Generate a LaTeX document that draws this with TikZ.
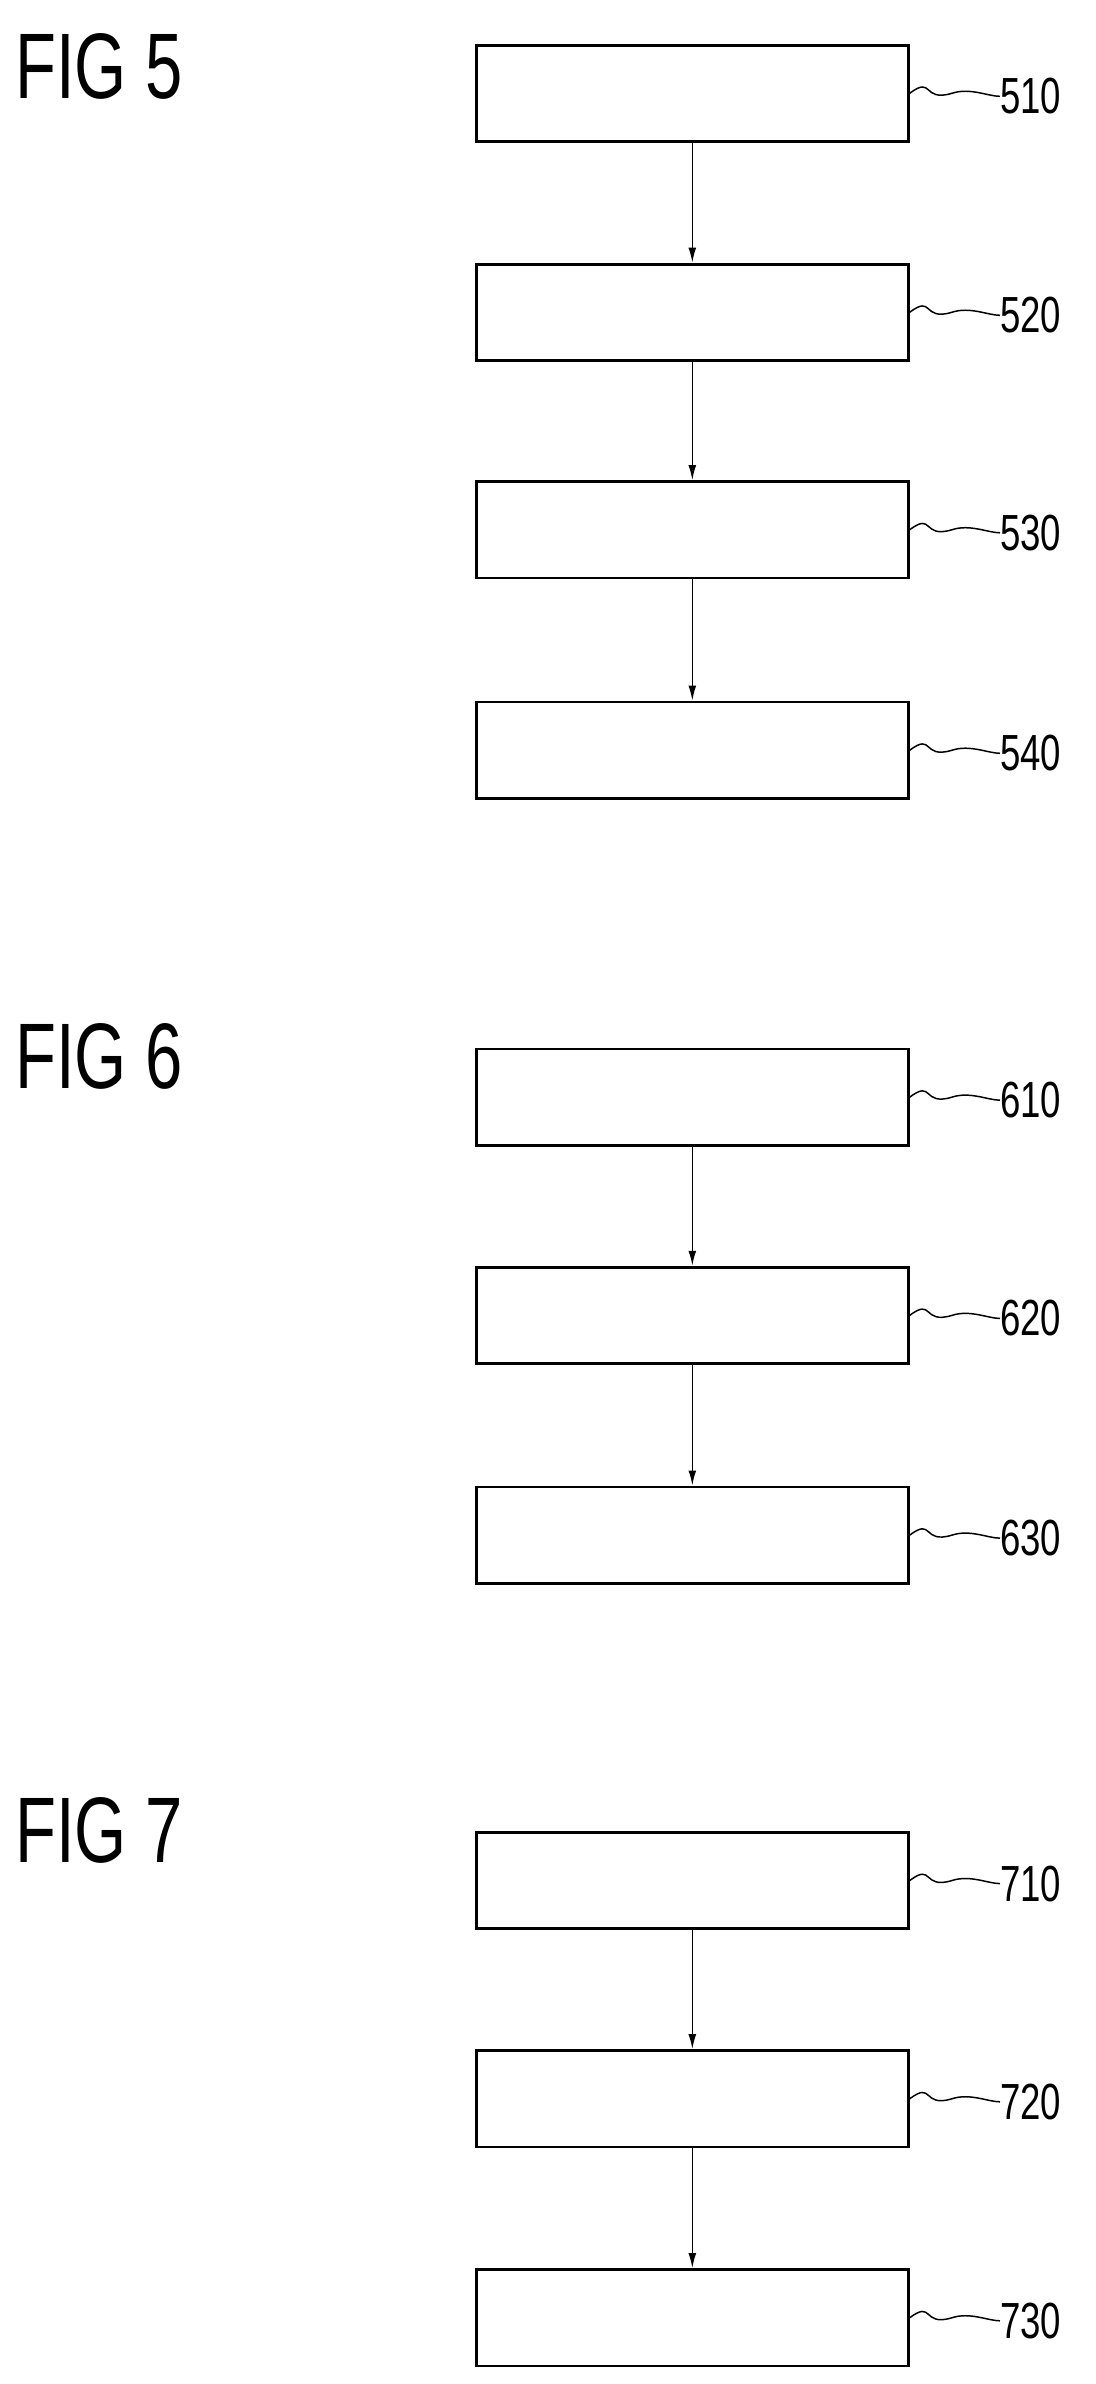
\documentclass[tikz,border=0pt]{standalone}
\usepackage{fontspec}
\setmainfont{Liberation Sans}
\usetikzlibrary{positioning, arrows.meta}
\tikzset{
	step box/.style={draw, rectangle, line width=2.6pt, minimum width=143.5mm, minimum height=32mm, inner sep=0pt},
	ref/.style={anchor=west, xscale=0.72, inner sep=0pt, font=\fontsize{48}{48}\selectfont},
	fig/.style={anchor=north west, xscale=0.72, inner sep=0pt, font=\fontsize{88}{88}\selectfont},
}
\newcommand{\tildeline}[2]{\draw[line width=1.4pt] (#1.east) .. controls ++(8mm,6mm) and ++(-10mm,-3mm) .. ++(14mm,0) .. controls ++(6mm,2mm) and ++(-4mm,0) .. (#2.west);}
\begin{document}
\begin{tikzpicture}[x=0.5mm, y=-0.5mm]
			\useasboundingbox (0,0) rectangle (728,1584);
			
			\node (fig5) [fig] at (10,22) {FIG 5};
			\node (fig6) [fig] at (10,680) {FIG 6};
			\node (fig7) [fig] at (10,1194) {FIG 7};
			
			\node (s510) [step box] at (460,62) {};
			\node (s520) [step box] at (460,207.5) {};
			\node (s530) [step box] at (460,352) {};
			\node (s540) [step box] at (460,498.5) {};
			
			\node (s610) [step box] at (460,729) {};
			\node (s620) [step box] at (460,874) {};
			\node (s630) [step box] at (460,1020) {};
			
			\node (s710) [step box] at (460,1249.5) {};
			\node (s720) [step box] at (460,1394.5) {};
			\node (s730) [step box] at (460,1540) {};
			
			% reference numerals
			\foreach \n in {510,520,530,540,610,620,630,710,720,730} {
				\node (l\n) [ref, right=30mm of s\n.east, yshift=-1mm, anchor=west] {\n};
				\tildeline{s\n}{l\n}
			}
			
			\begin{scope}[line width=1.5pt, black, -{Latex[length=5mm, width=2.6mm]}]
				\draw (s510) -- (s520);
				\draw (s520) -- (s530);
				\draw (s530) -- (s540);
				\draw (s610) -- (s620);
				\draw (s620) -- (s630);
				\draw (s710) -- (s720);
				\draw (s720) -- (s730);
			\end{scope}
\end{tikzpicture}
\end{document}
